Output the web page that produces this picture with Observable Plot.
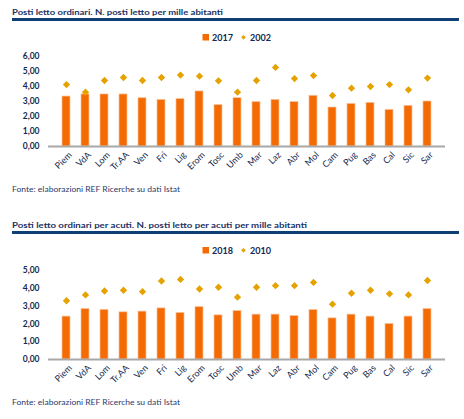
<!DOCTYPE html>
<html><head><meta charset="utf-8">
<script src="https://cdn.jsdelivr.net/npm/d3@7"></script>
<script src="https://cdn.jsdelivr.net/npm/@observablehq/plot@0.6"></script>
<style>
body{margin:0;background:#fff;}
#root{position:relative;width:464px;height:419px;overflow:hidden;font-family:Lato,"Noto Sans",sans-serif;}
#root > svg{position:absolute;left:0;}
</style></head>
<body><div id="root"></div>
<script>
const regions = ["Piem","VdA","Lom","Tr.AA","Ven","Fri","Lig","Erom","Tosc","Umb","Mar","Laz","Abr","Mol","Cam","Pug","Bas","Cal","Sic","Sar"];
const v2017 = [3.33,3.47,3.47,3.47,3.22,3.11,3.16,3.67,2.76,3.22,2.96,3.11,2.96,3.38,2.60,2.84,2.91,2.44,2.71,3.00];
const v2002 = [4.13,3.62,4.40,4.60,4.40,4.60,4.76,4.69,4.38,3.62,4.40,5.27,4.53,4.73,3.40,3.89,4.00,4.13,3.78,4.56];
const v2018 = [2.41,2.83,2.79,2.65,2.69,2.87,2.61,2.94,2.48,2.72,2.52,2.52,2.44,2.78,2.31,2.52,2.41,2.00,2.41,2.83];
const v2010 = [3.30,3.63,3.85,3.89,3.81,4.41,4.50,3.96,4.06,3.50,4.06,4.15,4.15,4.33,3.11,3.72,3.89,3.69,3.63,4.44];
const yTicks1 = [0,1,2,3,4,5,6];
const yTicks2 = [0,1,2,3,4,5];
const titles = ["Posti letto ordinari. N. posti letto per mille abitanti",
                "Posti letto ordinari per acuti. N. posti letto per acuti per mille abitanti"];
const legendLabels = [["2017","2002"],["2018","2010"]];
const caption = "Fonte: elaborazioni REF Ricerche su dati Istat";

const BAR = "#f46a03", DOT = "#e5a201", NAVY = "#14294f";
const root = document.getElementById("root");

function chart(bars, dots, ticks, top, marginTop) {
  const data = regions.map((r, i) => ({r, b: bars[i], d: dots[i]}));
  const fmt = d => d.toFixed(2).replace(".", ",");
  const p = Plot.plot({
    width: 464, height: 186, marginTop, marginBottom: 40, marginLeft: 48, marginRight: 19,
    style: {fontFamily: "Lato, 'Noto Sans', sans-serif", color: NAVY, background: "transparent"},
    x: {domain: regions, padding: 0.58, label: null},
    y: {domain: [0, d3.max(ticks)], label: null},
    marks: [
      Plot.barY(data, {x: "r", y: "b", fill: BAR, stroke: "#f9c29a", strokeWidth: 0.7}),
      Plot.dot(data, {x: "r", y: "d", symbol: "diamond2", r: 3.3, fill: DOT, stroke: "none"}),
      Plot.ruleY([0], {stroke: "#a8a8a8", strokeWidth: 2}),
      Plot.axisY({ticks, tickFormat: fmt, tickSize: 0, tickPadding: 9, fontSize: 8.5, fontWeight: "bold", label: null}),
      Plot.axisX({tickSize: 0, tickRotate: -45, tickPadding: 7, fontSize: 9, textAnchor: "end", label: null, dx: 4})
    ]
  });
  p.style.top = top + "px";
  root.appendChild(p);
}
chart(v2017, v2002, yTicks1, 0, 56);
chart(v2018, v2010, yTicks2, 213, 57);

// overlay for titles, rules, legends, captions
const ov = d3.select(root).append("svg").attr("width", 464).attr("height", 419)
  .style("top", "0px").style("pointer-events", "none");
[0, 213].forEach((off, k) => {
  ov.append("text").attr("x", 12).attr("y", off + 15.3).text(titles[k])
    .attr("font-size", 8).attr("font-weight", "bold").attr("fill", "#1b3264")
    .attr("textLength", k === 0 ? 211 : 295).attr("lengthAdjust", "spacingAndGlyphs")
    .attr("font-family", "Lato, 'Noto Sans', sans-serif");
  ov.append("rect").attr("x", 12).attr("y", off + 18).attr("width", 447).attr("height", 3).attr("fill", "#0f3f74");
  const g = ov.append("g").attr("font-family", "Lato, 'Noto Sans', sans-serif").attr("font-size", 9)
    .attr("font-weight", "bold").attr("fill", NAVY);
  g.append("rect").attr("x", 202.5).attr("y", off + 34).attr("width", 6.5).attr("height", 6.5).attr("fill", BAR);
  g.append("text").attr("x", 212).attr("y", off + 40.5).text(legendLabels[k][0]).attr("textLength", 21).attr("lengthAdjust", "spacingAndGlyphs");
  g.append("path").attr("d", d3.symbol(d3.symbolDiamond2, 14)()).attr("transform", `translate(243.5,${off + 37.3})`).attr("fill", DOT);
  g.append("text").attr("x", 250).attr("y", off + 40.5).text(legendLabels[k][1]).attr("textLength", 21).attr("lengthAdjust", "spacingAndGlyphs");
  ov.append("text").attr("x", 12).attr("y", off + 191.5).text(caption)
    .attr("font-size", 7.5).attr("fill", "#1f3a6e").attr("textLength", 168).attr("lengthAdjust", "spacingAndGlyphs")
    .attr("font-family", "Lato, 'Noto Sans', sans-serif");
});
</script>
</body></html>
